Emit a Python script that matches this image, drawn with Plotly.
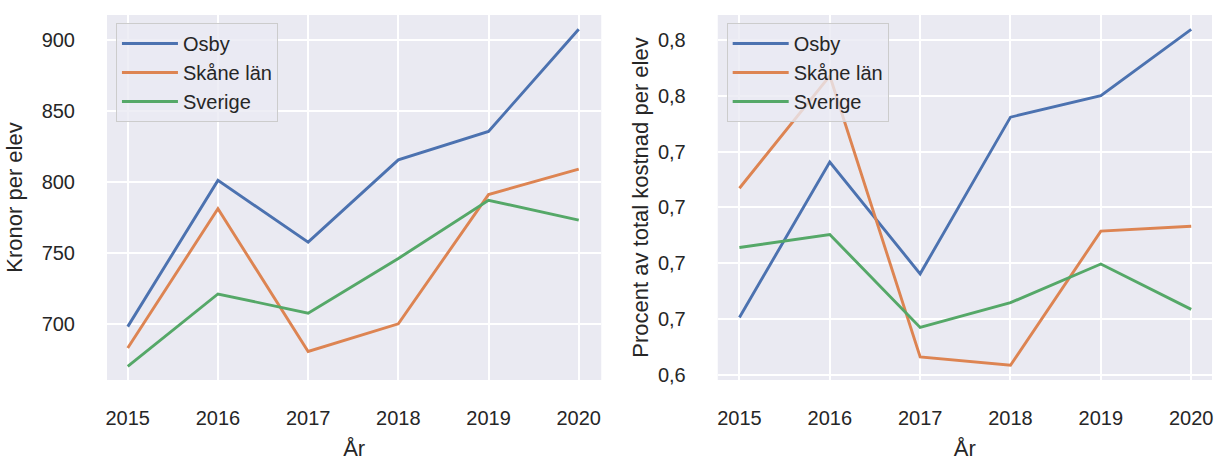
import plotly.graph_objects as go

years = [2015, 2016, 2017, 2018, 2019, 2020]
series_names = ["Osby", "Skåne län", "Sverige"]
colors = ["#4C72B0", "#DD8452", "#55A868"]

kronor_osby = [698, 801, 757.5, 815.5, 835.5, 907.5]
kronor_skane = [683, 781, 680.5, 700, 791, 809]
kronor_sverige = [670, 721, 707.5, 746, 787, 773]

procent_osby = [0.6508, 0.7203, 0.6703, 0.7404, 0.7500, 0.7797]
procent_skane = [0.7086, 0.7589, 0.6331, 0.6294, 0.6894, 0.6916]
procent_sverige = [0.6821, 0.6879, 0.6463, 0.6574, 0.6747, 0.6544]

left_ticks = [700, 750, 800, 850, 900]
right_tickvals = [0.625, 0.65, 0.675, 0.70, 0.725, 0.75, 0.775]
right_ticktext = ["0,6", "0,7", "0,7", "0,7", "0,7", "0,8", "0,8"]

FONT = "Liberation Sans, Arial, sans-serif"
TXT = "#262626"

fig = go.Figure()

left = [kronor_osby, kronor_skane, kronor_sverige]
right = [procent_osby, procent_skane, procent_sverige]
for i, name in enumerate(series_names):
    fig.add_trace(go.Scatter(x=years, y=left[i], mode="lines", name=name,
                             line=dict(color=colors[i], width=2.9),
                             xaxis="x", yaxis="y", legend="legend"))
for i, name in enumerate(series_names):
    fig.add_trace(go.Scatter(x=years, y=right[i], mode="lines", name=name,
                             line=dict(color=colors[i], width=2.9),
                             xaxis="x2", yaxis="y2", legend="legend2"))

xcommon = dict(tickvals=years, showgrid=True,
               gridcolor="white", gridwidth=1.6, zeroline=False, showline=False,
               ticks="outside", ticklen=20, tickcolor="rgba(0,0,0,0)",
               tickfont=dict(size=20, color=TXT, family=FONT),
               title=dict(text="År", font=dict(size=22, color=TXT, family=FONT), standoff=13))
ycommon = dict(showgrid=True, gridcolor="white", gridwidth=1.6, zeroline=False,
               showline=False, ticks="outside", ticklen=27, tickcolor="rgba(0,0,0,0)",
               tickfont=dict(size=20, color=TXT, family=FONT))

legend_style = dict(bgcolor="rgba(234,234,242,0.8)", bordercolor="#CCCCCC", borderwidth=1,
                    font=dict(size=20, color=TXT, family=FONT),
                    xanchor="left", yanchor="top", itemwidth=56)

fig.update_layout(
    width=1217, height=461,
    margin=dict(l=107, r=4, t=15, b=78),
    paper_bgcolor="white", plot_bgcolor="#EAEAF2",
    font=dict(family=FONT, color=TXT),
    hovermode=False,
    xaxis=dict(domain=[0, 0.4473], range=[2014.77, 2020.25], anchor="y", **xcommon),
    xaxis2=dict(domain=[0.5527, 1], range=[2014.76, 2020.23], anchor="y2", **xcommon),
    yaxis=dict(domain=[0, 1], anchor="x", range=[660.4, 917.5], tickvals=left_ticks,
               title=dict(text="Kronor per elev", font=dict(size=22, color=TXT, family=FONT), standoff=12),
               **ycommon),
    yaxis2=dict(domain=[0, 1], anchor="x2", range=[0.6228, 0.7861], tickvals=right_tickvals,
                ticktext=right_ticktext,
                title=dict(text="Procent av total kostnad per elev", font=dict(size=22, color=TXT, family=FONT), standoff=3),
                **ycommon),
    legend=dict(x=0.0081, y=0.978, **legend_style),
    legend2=dict(x=0.5608, y=0.978, **legend_style),
)

fig.write_html("out.html", config={"displayModeBar": False},
               post_script="document.body.style.margin='0px';document.body.style.overflow='hidden';")
